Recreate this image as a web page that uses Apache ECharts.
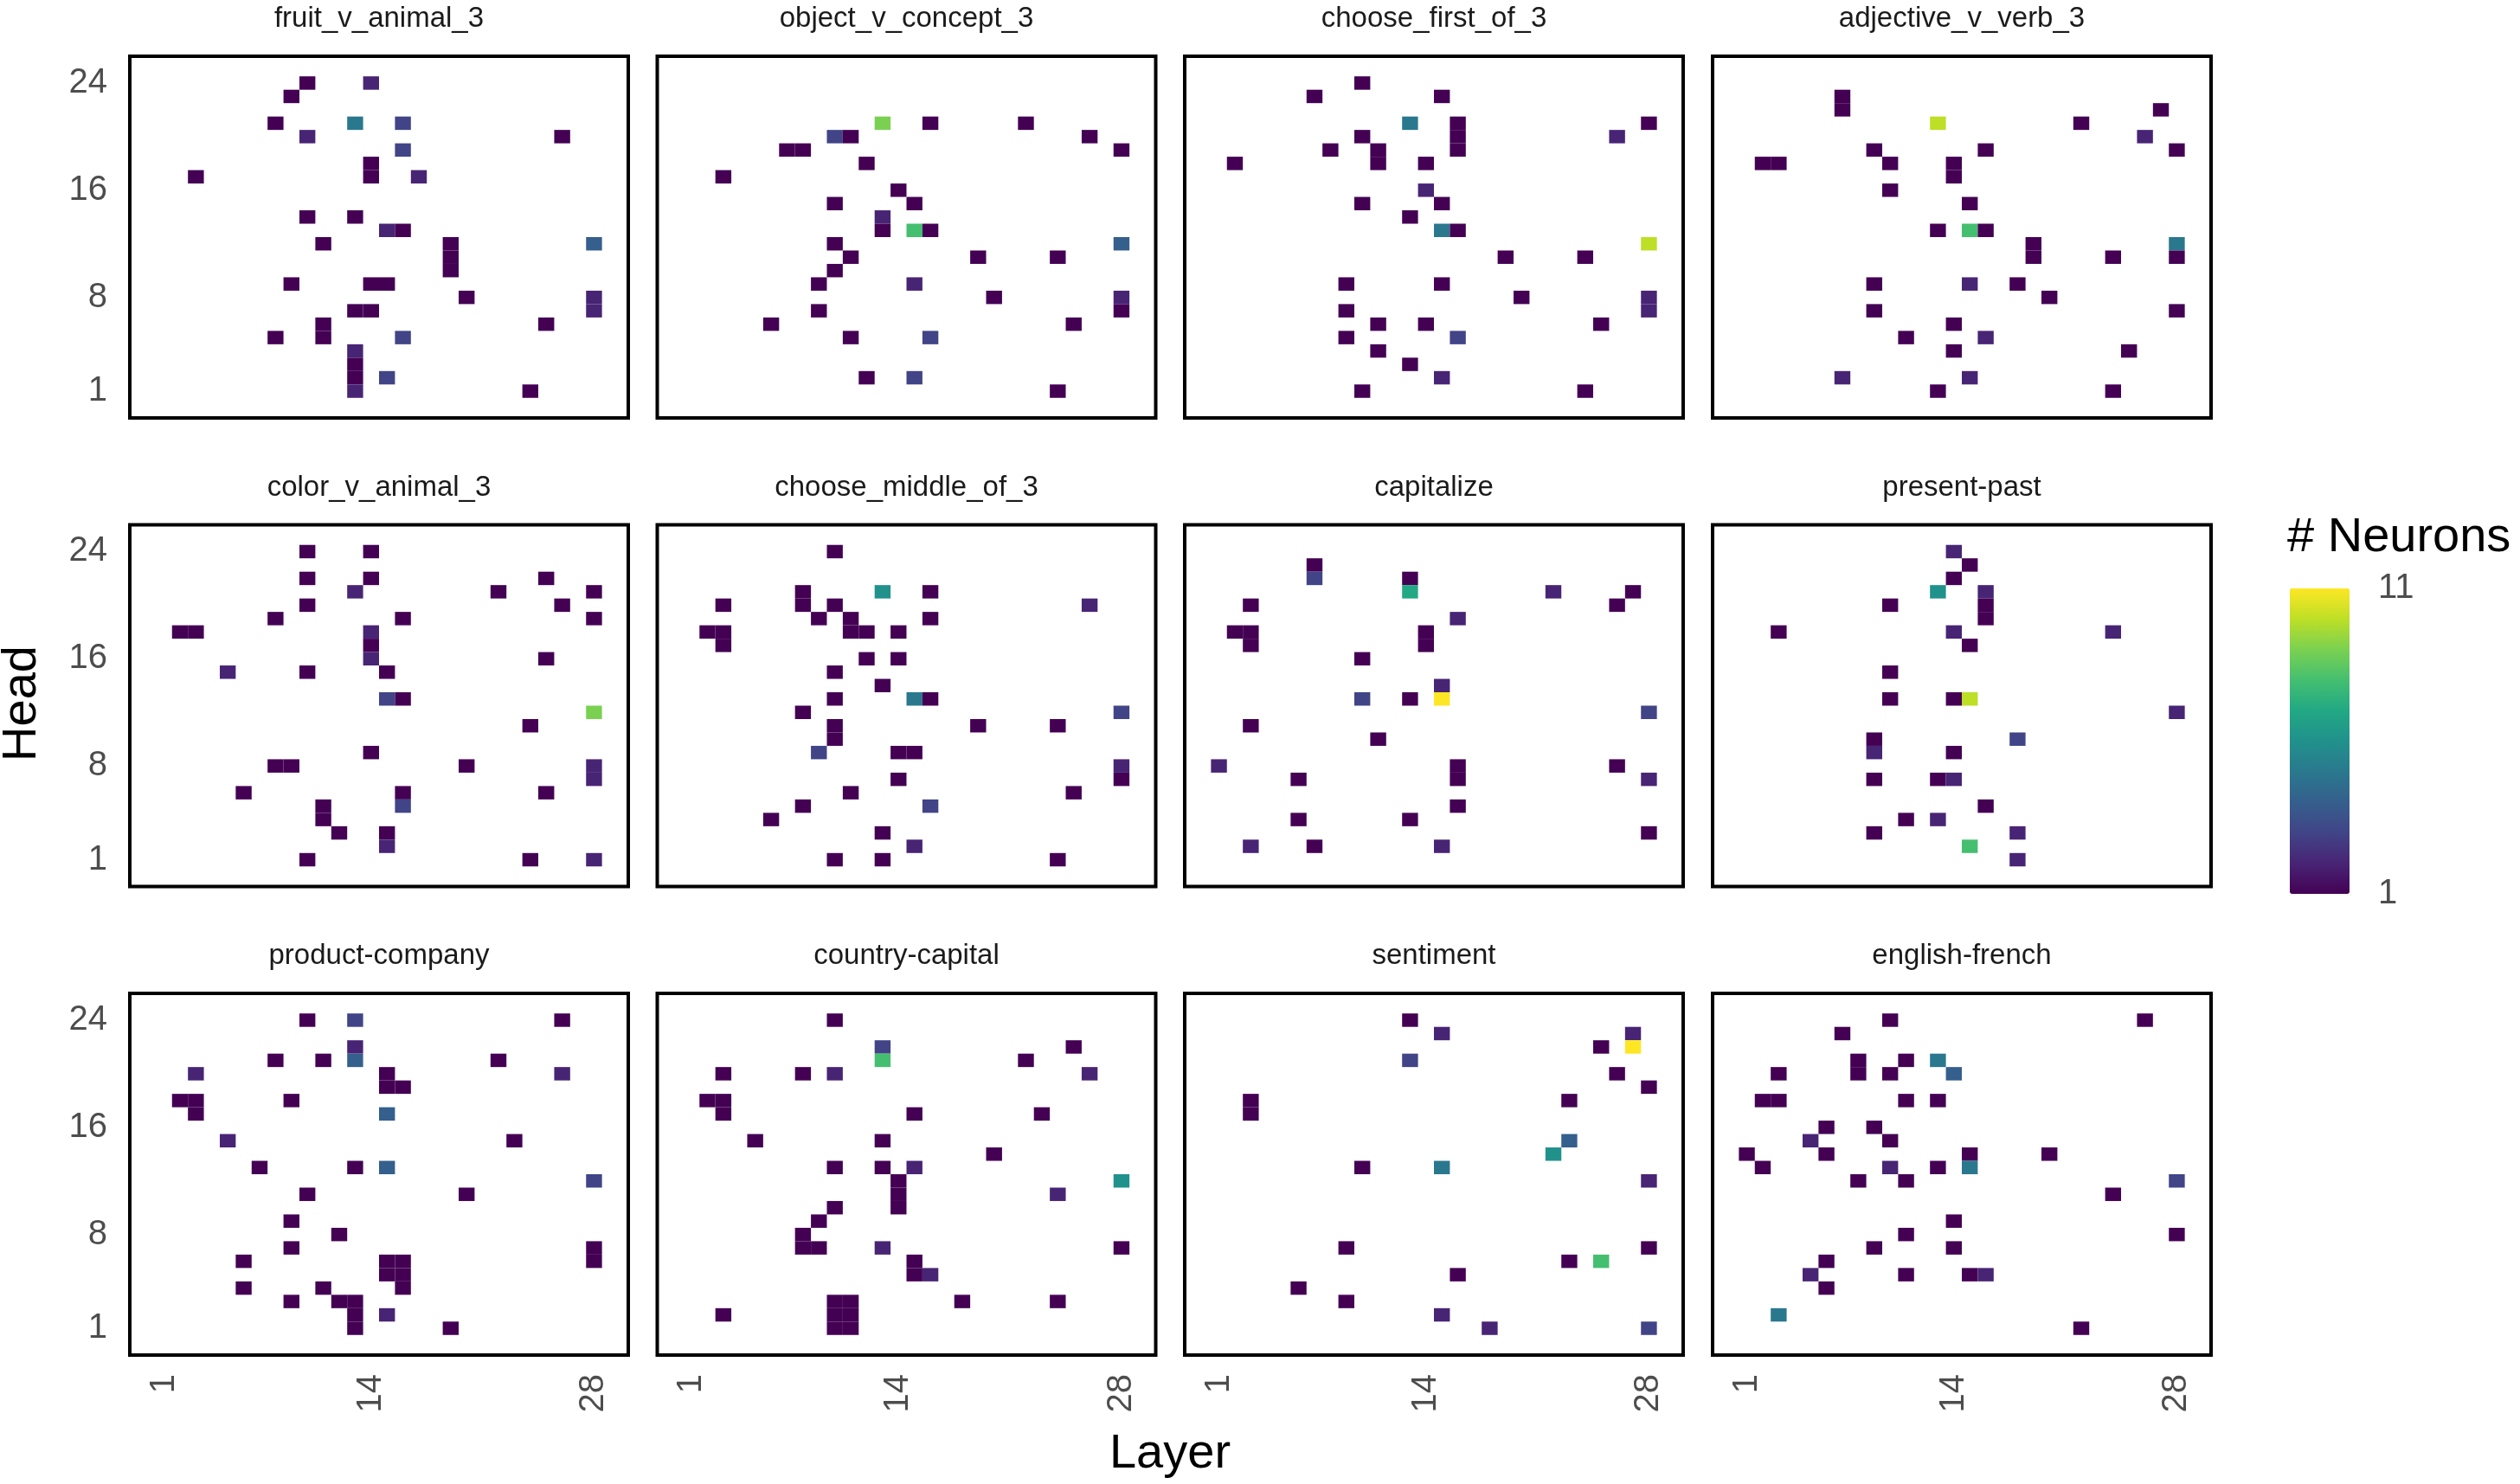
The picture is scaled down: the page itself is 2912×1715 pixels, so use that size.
<!DOCTYPE html>
<html>
<head>
<meta charset="utf-8">
<script src="https://cdn.jsdelivr.net/npm/echarts@6/dist/echarts.min.js"></script>
<style>
html, body { margin: 0; padding: 0; background: #fff; }
#main { width: 2912px; height: 1715px; }
</style>
</head>
<body>
<div id="main"></div>
<script>
var tasks = ['fruit_v_animal_3', 'object_v_concept_3', 'choose_first_of_3', 'adjective_v_verb_3',
	'color_v_animal_3', 'choose_middle_of_3', 'capitalize', 'present-past',
	'product-company', 'country-capital', 'sentiment', 'english-french'];
var layerTicks = [1, 14, 28];
var headTicks = [1, 8, 16, 24];

// [layer, head, # neurons]
var fruitVAnimal = [[10,24,1],[14,24,2],[9,23,1],[8,21,1],[13,21,5],[16,21,3],[10,20,2],[26,20,1],[16,19,3],
	[14,18,1],[14,17,1],[3,17,1],[17,17,2],[10,14,1],[13,14,1],[15,13,2],[16,13,1],[11,12,1],[19,12,1],[19,11,1],
	[19,10,1],[28,12,4],[9,9,1],[14,9,1],[15,9,1],[20,8,1],[28,8,2],[28,7,2],[13,7,1],[14,7,1],[11,6,1],[11,5,1],
	[25,6,1],[8,5,1],[16,5,3],[13,4,2],[13,3,1],[13,2,1],[15,2,3],[13,1,2],[24,1,1]];
var objectVConcept = [[13,21,9],[16,21,1],[22,21,1],[10,20,3],[11,20,1],[26,20,1],[7,19,1],[8,19,1],[28,19,1],
	[12,18,1],[3,17,1],[14,16,1],[10,15,1],[15,15,1],[13,14,2],[13,13,1],[15,13,8],[16,13,1],[10,12,1],[28,12,4],
	[11,11,1],[19,11,1],[24,11,1],[10,10,1],[9,9,1],[15,9,2],[20,8,1],[28,8,2],[28,7,1],[9,7,1],[6,6,1],[25,6,1],
	[11,5,1],[16,5,3],[12,2,1],[15,2,3],[24,1,1]];
var chooseFirst = [[10,24,1],[7,23,1],[15,23,1],[13,21,5],[16,21,1],[16,20,1],[16,19,1],[28,21,1],[10,20,1],
	[26,20,2],[8,19,1],[11,19,1],[11,18,1],[2,18,1],[14,18,1],[14,16,2],[10,15,1],[15,15,1],[13,14,1],[15,13,5],
	[16,13,1],[28,12,10],[19,11,1],[24,11,1],[9,9,1],[15,9,1],[20,8,1],[28,8,2],[28,7,2],[9,7,1],[11,6,1],[14,6,1],
	[25,6,1],[9,5,1],[16,5,3],[11,4,1],[13,3,1],[15,2,2],[10,1,1],[24,1,1]];
var adjectiveVVerb = [[7,23,1],[7,22,1],[27,22,1],[13,21,10],[22,21,1],[26,20,2],[9,19,1],[16,19,1],[28,19,1],
	[2,18,1],[3,18,1],[10,18,1],[14,18,1],[14,17,1],[10,16,1],[15,15,1],[13,13,1],[15,13,8],[16,13,1],[19,12,1],
	[19,11,1],[28,12,5],[28,11,1],[24,11,1],[9,9,1],[15,9,2],[18,9,1],[20,8,1],[9,7,1],[28,7,1],[14,6,1],[11,5,1],
	[16,5,2],[14,4,1],[25,4,1],[7,2,2],[15,2,2],[13,1,1],[24,1,1]];
var colorVAnimal = [[10,24,1],[14,24,1],[10,22,1],[14,22,1],[25,22,1],[13,21,2],[22,21,1],[28,21,1],[10,20,1],
	[26,20,1],[8,19,1],[16,19,1],[28,19,1],[2,18,1],[3,18,1],[14,18,2],[14,17,1],[14,16,2],[25,16,1],[5,15,2],
	[10,15,1],[15,15,1],[15,13,3],[16,13,1],[28,12,9],[24,11,1],[14,9,1],[8,8,1],[9,8,1],[20,8,1],[28,8,2],[28,7,2],
	[6,6,1],[16,6,1],[25,6,1],[11,5,1],[11,4,1],[16,5,3],[12,3,1],[15,3,1],[15,2,2],[10,1,1],[24,1,1],[28,1,2]];
var chooseMiddle = [[10,24,1],[8,21,1],[13,21,6],[16,21,1],[3,20,1],[8,20,1],[10,20,1],[26,20,2],[9,19,1],
	[11,19,1],[16,19,1],[2,18,1],[3,18,1],[3,17,1],[11,18,1],[12,18,1],[14,18,1],[12,16,1],[14,16,1],[10,15,1],
	[13,14,1],[10,13,1],[15,13,5],[16,13,1],[8,12,1],[28,12,3],[10,11,1],[10,10,1],[19,11,1],[24,11,1],[9,9,3],
	[14,9,1],[15,9,1],[28,8,2],[28,7,1],[14,7,1],[11,6,1],[25,6,1],[8,5,1],[16,5,3],[6,4,1],[13,3,1],[15,2,2],
	[10,1,1],[13,1,1],[24,1,1]];
var capitalize = [[7,23,1],[7,22,3],[13,22,1],[13,21,7],[22,21,2],[27,21,1],[3,20,1],[26,20,1],[16,19,2],
	[2,18,1],[3,18,1],[3,17,1],[14,18,1],[14,17,1],[10,16,1],[15,14,2],[10,13,3],[13,13,1],[15,13,11],[28,12,3],
	[3,11,1],[11,10,1],[1,8,2],[16,8,1],[16,7,1],[26,8,1],[6,7,1],[28,7,2],[16,5,1],[6,4,1],[13,4,1],[28,3,1],
	[3,2,2],[7,2,1],[15,2,2]];
var presentPast = [[14,24,2],[15,23,1],[14,22,1],[13,21,6],[16,21,2],[16,20,1],[16,19,1],[10,20,1],[3,18,1],
	[14,18,2],[24,18,2],[15,17,1],[10,15,1],[10,13,1],[14,13,1],[15,13,10],[28,12,2],[9,10,1],[9,9,2],[18,10,3],
	[14,9,1],[9,7,1],[13,7,1],[14,7,2],[16,5,1],[11,4,1],[13,4,2],[9,3,1],[18,3,2],[15,2,8],[18,1,2]];
var productCompany = [[10,24,1],[13,24,3],[26,24,1],[13,22,2],[13,21,4],[8,21,1],[11,21,1],[22,21,1],[3,20,2],
	[15,20,1],[15,19,1],[16,19,1],[26,20,2],[2,18,1],[3,18,1],[3,17,1],[9,18,1],[15,17,4],[5,15,2],[23,15,1],
	[7,13,1],[13,13,1],[15,13,4],[28,12,3],[10,11,1],[20,11,1],[9,9,1],[12,8,1],[9,7,1],[28,7,1],[28,6,1],[6,6,1],
	[15,6,1],[16,6,1],[15,5,1],[16,5,1],[16,4,1],[6,4,1],[11,4,1],[9,3,1],[12,3,1],[13,3,1],[13,2,1],[13,1,1],
	[15,2,2],[19,1,1]];
var countryCapital = [[10,24,1],[13,22,3],[13,21,8],[25,22,1],[22,21,1],[3,20,1],[8,20,1],[10,20,2],[26,20,2],
	[2,18,1],[3,18,1],[3,17,1],[15,17,1],[23,17,1],[5,15,1],[13,15,1],[20,14,1],[10,13,1],[13,13,1],[15,13,2],
	[14,12,1],[14,11,1],[14,10,1],[28,12,6],[24,11,2],[10,10,1],[9,9,1],[8,8,1],[8,7,1],[9,7,1],[13,7,2],[28,7,1],
	[15,6,1],[15,5,1],[16,5,2],[10,3,1],[11,3,1],[10,2,1],[11,2,1],[10,1,1],[11,1,1],[18,3,1],[24,3,1],[3,2,1]];
var sentiment = [[13,24,1],[15,23,2],[27,23,2],[25,22,1],[27,22,11],[13,21,3],[26,20,1],[28,19,1],[3,18,1],
	[3,17,1],[23,18,1],[23,15,4],[22,14,6],[10,13,1],[15,13,5],[28,12,2],[9,7,1],[28,7,1],[23,6,1],[25,6,8],
	[16,5,1],[6,4,1],[9,3,1],[15,2,2],[18,1,2],[28,1,3]];
var englishFrench = [[10,24,1],[26,24,1],[7,23,1],[8,21,1],[8,20,1],[11,21,1],[13,21,5],[3,20,1],[10,20,1],
	[14,20,4],[2,18,1],[3,18,1],[11,18,1],[13,18,1],[6,16,1],[9,16,1],[5,15,2],[10,15,1],[1,14,1],[6,14,1],
	[15,14,1],[20,14,1],[2,13,1],[10,13,2],[13,13,1],[15,13,5],[8,12,1],[11,12,1],[28,12,3],[24,11,1],[14,9,1],
	[11,8,1],[28,8,1],[9,7,1],[14,7,1],[6,6,1],[5,5,2],[11,5,1],[15,5,1],[16,5,2],[6,4,1],[3,2,5],[22,1,1]];

var panelData = [fruitVAnimal, objectVConcept, chooseFirst, adjectiveVVerb,
	colorVAnimal, chooseMiddle, capitalize, presentPast,
	productCompany, countryCapital, sentiment, englishFrench];

var viridis = ['#440154', '#482475', '#414487', '#355f8d', '#2a788e', '#21918c',
	'#22a884', '#44bf70', '#7ad151', '#bddf26', '#fde725'];

var FONT = 'Liberation Sans, Arial, Helvetica, sans-serif';
var panelW = 576, panelH = 418;
var lefts = [150, 759.5, 1369, 1979];
var tops = [65, 606.5, 1148];

var chart = echarts.init(document.getElementById('main'), null, {renderer: 'canvas'});

var renderCell = function(params, api) {
	var x = api.value(0), y = api.value(1);
	var p0 = api.coord([x - 0.5, y + 0.5]);
	var p1 = api.coord([x + 0.5, y - 0.5]);
	return {
		type: 'rect',
		shape: {x: p0[0], y: p0[1], width: p1[0] - p0[0], height: p1[1] - p0[1]},
		style: {fill: api.visual('color')}
	};
};

var grids = [], xAxes = [], yAxes = [], series = [], graphics = [];
tasks.forEach(function(name, i) {
	var col = i % 4, row = Math.floor(i / 4);
	grids.push({
		left: lefts[col], top: tops[row], width: panelW, height: panelH,
		show: true, borderColor: '#000', borderWidth: 4, backgroundColor: 'transparent'
	});
	xAxes.push({
		gridIndex: i, type: 'value', min: -1.15, max: 30.15,
		axisLine: {show: false}, axisTick: {show: false}, splitLine: {show: false},
		axisLabel: {
			show: row === 2, customValues: layerTicks, rotate: 90, margin: 22,
			fontSize: 40, color: '#4d4d4d', fontFamily: FONT
		}
	});
	yAxes.push({
		gridIndex: i, type: 'value', min: -1, max: 26,
		axisLine: {show: false}, axisTick: {show: false}, splitLine: {show: false},
		axisLabel: {
			show: col === 0, customValues: headTicks, margin: 26,
			fontSize: 40, color: '#4d4d4d', fontFamily: FONT
		}
	});
	series.push({
		type: 'custom', xAxisIndex: i, yAxisIndex: i,
		dimensions: ['layer', 'head', 'neurons'],
		encode: {x: 0, y: 1},
		renderItem: renderCell,
		data: panelData[i]
	});
	// panel title
	graphics.push({
		type: 'text', x: lefts[col] + panelW / 2, y: tops[row] - 43,
		style: {
			text: name, textAlign: 'center', textVerticalAlign: 'middle',
			font: '33px ' + FONT, fill: '#1a1a1a'
		}
	});
});

// axis titles + legend text
graphics.push({
	type: 'text', x: 26, y: 813, rotation: Math.PI / 2,
	style: {text: 'Head', textAlign: 'center', textVerticalAlign: 'middle', font: '56px ' + FONT, fill: '#000'}
});
graphics.push({
	type: 'text', x: 1352, y: 1681,
	style: {text: 'Layer', textAlign: 'center', textVerticalAlign: 'middle', font: '56px ' + FONT, fill: '#000'}
});
graphics.push({
	type: 'text', x: 2643, y: 622,
	style: {text: '# Neurons', textAlign: 'left', textVerticalAlign: 'middle', font: '56px ' + FONT, fill: '#000'}
});
graphics.push({
	type: 'text', x: 2748, y: 680,
	style: {text: '11', textAlign: 'left', textVerticalAlign: 'middle', font: '40px ' + FONT, fill: '#4d4d4d'}
});
graphics.push({
	type: 'text', x: 2748, y: 1033,
	style: {text: '1', textAlign: 'left', textVerticalAlign: 'middle', font: '40px ' + FONT, fill: '#4d4d4d'}
});

var option = {
	backgroundColor: '#fff',
	animation: false,
	grid: grids,
	xAxis: xAxes,
	yAxis: yAxes,
	visualMap: {
		type: 'continuous', min: 1, max: 11, dimension: 2,
		seriesIndex: series.map(function(s, i) { return i; }),
		left: 2646, top: 680, itemWidth: 69, itemHeight: 353, padding: 0,
		calculable: false, text: null, showLabel: false,
		inRange: {color: viridis},
		textStyle: {color: 'transparent'}
	},
	series: series,
	graphic: graphics
};

chart.setOption(option);
</script>
</body>
</html>
